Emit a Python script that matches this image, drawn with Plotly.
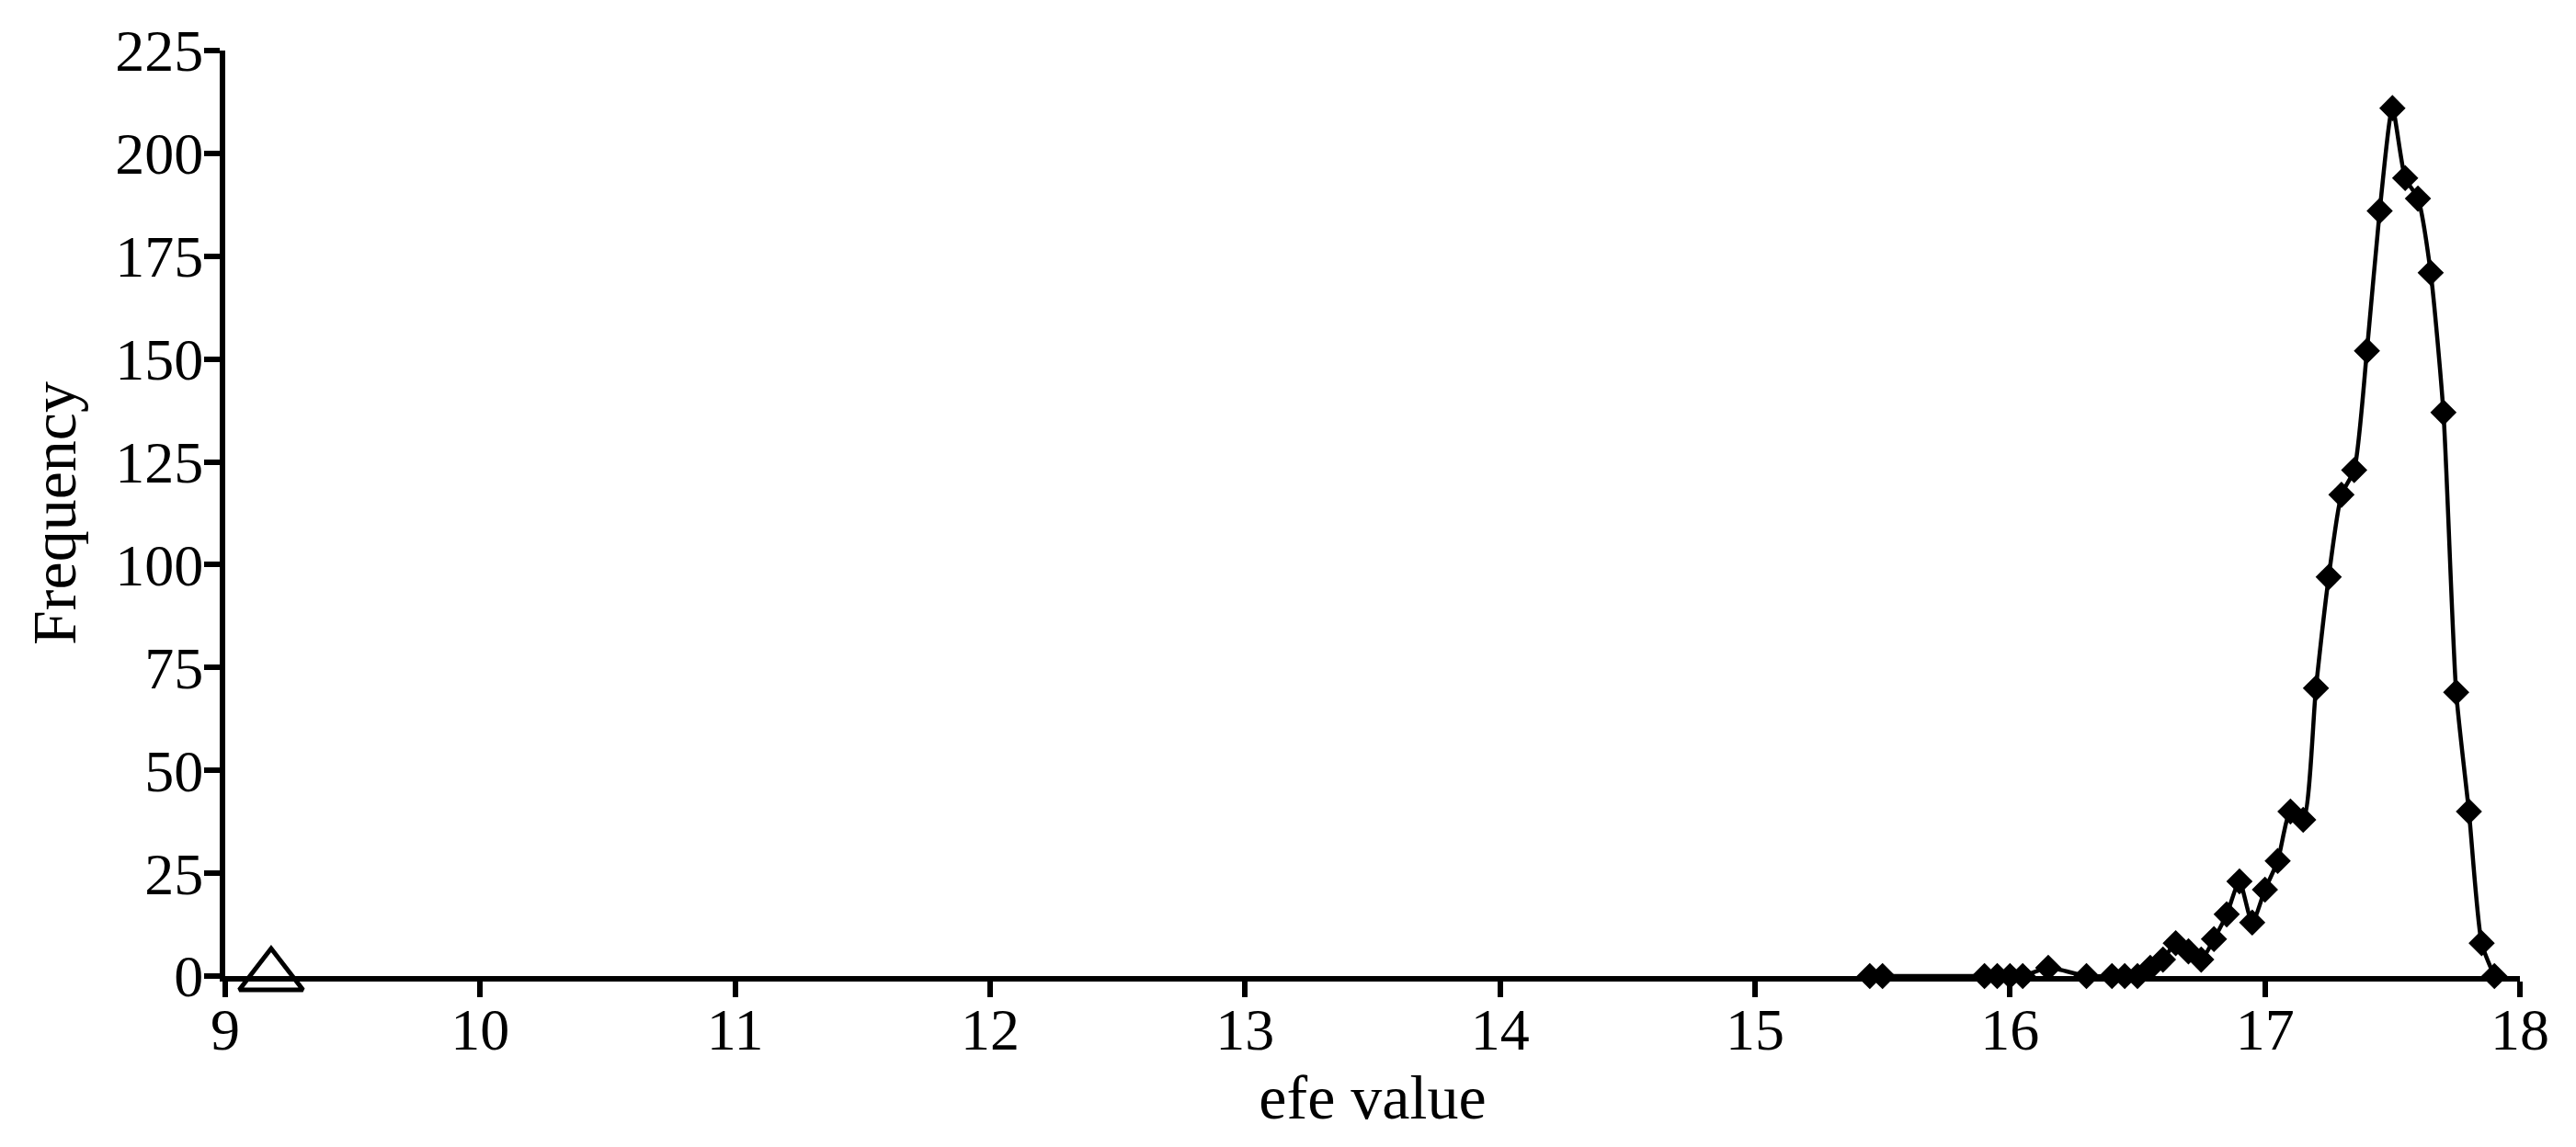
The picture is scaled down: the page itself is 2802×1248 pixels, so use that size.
import plotly.graph_objects as go

# Data
efe_values = [15.45, 15.5, 15.9, 15.95, 16.0, 16.05, 16.15, 16.3, 16.4, 16.45,
              16.5, 16.55, 16.6, 16.65, 16.7, 16.75, 16.8, 16.85, 16.9, 16.95,
              17.0, 17.05, 17.1, 17.15, 17.2, 17.25, 17.3, 17.35, 17.4, 17.45,
              17.5, 17.55, 17.6, 17.65, 17.7, 17.75, 17.8, 17.85, 17.9]
frequency = [0, 0, 0, 0, 0, 0, 2, 0, 0, 0,
             0, 2, 4, 8, 6, 4, 9, 15, 23, 13,
             21, 28, 40, 38, 70, 97, 117, 123, 152, 186,
             211, 194, 189, 171, 137, 69, 40, 8, 0]

ref_x = [9.18]
ref_y = [0]

x_ticks = [9, 10, 11, 12, 13, 14, 15, 16, 17, 18]
y_ticks = [0, 25, 50, 75, 100, 125, 150, 175, 200, 225]

FONT = "Liberation Serif"

fig = go.Figure()
fig.add_trace(go.Scatter(
    x=efe_values, y=frequency, mode="lines+markers",
    line=dict(color="black", width=4.5, shape="spline", smoothing=0.6),
    marker=dict(symbol="diamond", size=22, color="black"),
    cliponaxis=False, showlegend=False))
fig.add_trace(go.Scatter(
    x=ref_x, y=ref_y, mode="markers",
    marker=dict(symbol="triangle-up-open", size=60, color="black",
                line=dict(color="black", width=5)),
    cliponaxis=False, showlegend=False))

axis_common = dict(showline=True, linecolor="black", linewidth=6,
                   ticks="outside", ticklen=17, tickwidth=6, tickcolor="black",
                   showgrid=False, zeroline=False,
                   tickfont=dict(family=FONT, size=64, color="black"))

fig.update_xaxes(range=[9, 18], tickvals=x_ticks, ticktext=[str(v) for v in x_ticks],
                 ticklabelstandoff=-20,
                 title=dict(text="efe value", font=dict(family=FONT, size=68, color="black"),
                            standoff=17),
                 **axis_common)
fig.update_yaxes(range=[0, 225], tickvals=y_ticks, ticktext=[str(v) for v in y_ticks],
                 ticklabelstandoff=-12,
                 title=dict(text="Frequency", font=dict(family=FONT, size=68, color="black"),
                            standoff=22),
                 **axis_common)

# page has an 8px body margin, so the figure is made 8px smaller and margins shifted
fig.update_layout(width=2794, height=1240, plot_bgcolor="white", paper_bgcolor="white",
                  margin=dict(l=237, r=61, t=47, b=186, autoexpand=False),
                  font=dict(family=FONT, color="black"))

fig.write_html("out.html")
